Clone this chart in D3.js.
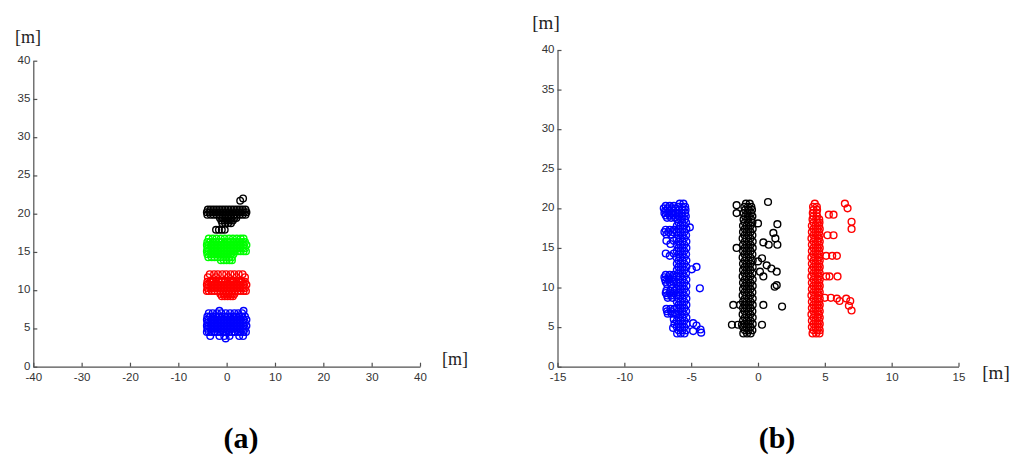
<!DOCTYPE html>
<html><head><meta charset="utf-8">
<script src="https://cdn.jsdelivr.net/npm/d3@7"></script>
<style>body{margin:0;background:#fff}svg{display:block}</style>
</head><body><svg id="c" width="1024" height="457"></svg>
<script>
// ---------- tick labels ----------
const yTicks = [0,5,10,15,20,25,30,35,40];
const xTicksA = [-40,-30,-20,-10,0,10,20,30,40];
const xTicksB = [-15,-10,-5,0,5,10,15];
const unitLabel = "[m]";
const panelLabels = ["(a)", "(b)"];

// ---------- panel (a) data: rows of [y, x1, x2, ...] ----------
const aBlack = [
 [20.55,-3.9,-3.3,-2.7,-2.1,-1.5,-0.9,-0.3,0.3,0.9,1.5,2.1,2.7,3.3,3.9],
 [20.2,-4.1,-3.6,-3.0,-2.4,-1.8,-1.2,-0.6,0.0,0.6,1.2,1.8,2.4,3.0,3.6,4.1],
 [19.85,-4.0,-3.3,-2.7,-2.1,-1.5,-0.9,-0.3,0.3,0.9,1.5,2.1,2.7,3.3,3.9],
 [19.45,-1.4,-0.8,-0.2,0.4,1.0,1.6,2.0],
 [19.1,-1.1,-0.5,0.1,0.7,1.3],
 [18.75,-0.9,-0.3,0.3,0.9],
 [17.9,-2.2,-1.6,-1.0,-0.4],
 [21.7,2.8],
 [22.0,3.4]
];
const aGreen = [
 [16.75,-3.7,-2.9,-2.1,-1.2,-0.4,0.5,1.3,2.1,2.9,3.5],
 [16.3,-4.0,-3.4,-2.8,-2.2,-1.6,-1.0,-0.4,0.2,0.8,1.4,2.0,2.6,3.2,3.8],
 [15.9,-4.1,-3.7,-3.1,-2.5,-1.9,-1.3,-0.7,-0.1,0.5,1.1,1.7,2.3,2.9,3.5,4.1],
 [15.5,-4.0,-3.4,-2.8,-2.2,-1.6,-1.0,-0.4,0.2,0.8,1.4,2.0,2.6,3.2,3.8],
 [15.1,-4.1,-3.7,-3.1,-2.5,-1.9,-1.3,-0.7,-0.1,0.5,1.1,1.7,2.3,2.9,3.5,4.0],
 [14.7,-4.0,-3.4,-2.8,-2.2,-1.6,-1.0,-0.4,0.2,0.8,1.4],
 [14.3,-3.8,-3.1,-2.5,-1.9,-1.3,-0.7,-0.1,0.5,1.1],
 [13.9,-1.2,-0.6,0.0,0.6,1.1]
];
const aRed = [
 [12.1,-3.5,-2.6,-1.8,-0.9,-0.1,0.8,1.6,2.5,3.3],
 [11.7,-3.9,-2.2,0.3,2.0,3.8],
 [11.1,-4.0,-3.4,-2.8,-2.2,-1.6,-1.0,-0.4,0.2,0.8,1.4,2.0,2.6,3.2,3.8],
 [10.7,-4.1,-3.7,-3.1,-2.5,-1.9,-1.3,-0.7,-0.1,0.5,1.1,1.7,2.3,2.9,3.5,4.1],
 [10.3,-4.0,-3.4,-2.8,-2.2,-1.6,-1.0,-0.4,0.2,0.8,1.4,2.0,2.6,3.2,3.8],
 [9.9,-4.1,-3.7,-3.1,-2.5,-1.9,-1.3,-0.7,-0.1,0.5,1.1,1.7,2.3,2.9,3.5,4.0],
 [9.5,-1.3,-0.7,-0.1,0.5,1.1,1.6],
 [9.2,-1.0,-0.4,0.2,0.8,1.3]
];
const aBlue = [
 [7.3,-1.5,3.5],
 [7.0,-3.7,-2.9,-2.0,-1.1,-0.2,0.7,1.6,2.4,3.2],
 [6.55,-4.0,-3.4,-2.8,-2.2,-1.6,-1.0,-0.4,0.2,0.8,1.4,2.0,2.6,3.2,3.8],
 [6.15,-4.1,-3.7,-3.1,-2.5,-1.9,-1.3,-0.7,-0.1,0.5,1.1,1.7,2.3,2.9,3.5,4.1],
 [5.75,-4.0,-3.4,-2.8,-2.2,-1.6,-1.0,-0.4,0.2,0.8,1.4,2.0,2.6,3.2,3.8],
 [5.35,-4.1,-3.7,-3.1,-2.5,-1.9,-1.3,-0.7,-0.1,0.5,1.1,1.7,2.3,2.9,3.5,4.1],
 [4.95,-4.0,-3.4,-2.8,-2.2,-1.6,-1.0,-0.4,0.2,0.8,1.4,2.0,2.6,3.2,3.8],
 [4.55,-4.1,-3.7,-3.1,-2.5,-1.9,-1.3,-0.7,-0.1,0.5,1.1,1.7,2.3,2.9,3.5,4.0],
 [4.0,-3.4,-1.5,-0.5,0.6,2.6,3.4],
 [3.7,-0.2]
];

// ---------- panel (b) data: rows of [y, x1, x2, ...] ----------
const bBlue = [
 [4.2,-6.05,-5.78,-5.5],[4.6,-5.94,-5.66,-5.38],[5.0,-6.07,-5.8,-5.52],[5.4,-5.94,-5.66,-5.36],
 [5.8,-6.07,-5.8,-5.52],[6.2,-5.94,-5.66,-5.36],[6.6,-6.1,-5.82,-5.54],[7.0,-5.95,-5.67,-5.38],
 [7.4,-6.07,-5.8,-5.52],[7.8,-5.94,-5.66,-5.36],[8.2,-6.07,-5.8,-5.52],[8.6,-5.94,-5.66,-5.36],
 [9.0,-6.1,-5.82,-5.54],[9.4,-5.95,-5.67,-5.38],[9.8,-6.07,-5.8,-5.52],[10.2,-5.94,-5.66,-5.36],
 [10.6,-6.07,-5.8,-5.52],[11.0,-5.94,-5.66,-5.36],[11.4,-6.1,-5.82,-5.54],[11.8,-5.95,-5.67,-5.38],
 [12.2,-6.07,-5.8,-5.52],[12.6,-5.94,-5.66,-5.36],[13.0,-6.07,-5.8,-5.52],[13.4,-5.94,-5.66,-5.36],
 [13.8,-6.1,-5.82,-5.54],[14.2,-5.95,-5.67,-5.38],[14.6,-6.07,-5.8,-5.52],[15.0,-5.94,-5.66,-5.36],
 [15.4,-6.07,-5.8,-5.52],[15.8,-5.94,-5.66,-5.36],[16.2,-6.1,-5.82,-5.54],[16.6,-5.95,-5.67,-5.38],
 [17.0,-6.07,-5.8,-5.52],[17.4,-5.94,-5.66,-5.36],[17.8,-6.07,-5.8,-5.52],[18.2,-5.94,-5.66,-5.38],
 [18.6,-6.02,-5.75,-5.48],[19.0,-5.92,-5.64,-5.4],[19.4,-6.0,-5.72,-5.45],[19.8,-5.9,-5.62,-5.42],
 [20.2,-5.95,-5.68,-5.45],[20.6,-5.85,-5.58],
 // left flag and side bumps
 [20.3,-6.9,-6.6,-6.3],[20.0,-7.05,-6.75,-6.45,-6.2],[19.7,-6.95,-6.65,-6.35],
 [19.4,-7.0,-6.7,-6.4,-6.15],[19.1,-6.9,-6.6,-6.3],[18.8,-6.8,-6.5,-6.2],
 [17.3,-6.9,-6.6,-6.3],[17.0,-7.0,-6.7,-6.4],[16.7,-6.85,-6.5],
 [15.9,-6.85,-6.3],[15.5,-6.55],
 [14.3,-6.9,-6.3],[14.0,-6.6],
 [11.6,-6.9,-6.6,-6.3],[11.3,-7.0,-6.7,-6.4],[11.0,-6.95,-6.65,-6.35],[10.7,-6.9,-6.6,-6.3],[10.4,-6.8,-6.5],
 [9.6,-6.85,-6.55,-6.25],[9.3,-6.9,-6.6,-6.3],[9.0,-6.8,-6.5],[8.7,-6.75,-6.4],
 [7.3,-6.85,-6.55,-6.25],[7.0,-6.8,-6.5],[6.7,-6.75,-6.45,-6.2],
 [6.0,-6.3],[5.4,-6.25],[4.9,-6.35],
 // right-side outliers
 [17.6,-5.1],[12.6,-4.6],[12.3,-4.95],[9.9,-4.35],
 [5.5,-4.85],[5.2,-4.6],[4.7,-4.3],[4.3,-4.25],[4.5,-4.85]
];
const bBlack = [
 [4.2,-1.1,-0.82,-0.55],[4.6,-0.98,-0.7,-0.42],[5.0,-1.12,-0.84,-0.56],[5.4,-0.98,-0.7,-0.4],
 [5.8,-1.12,-0.84,-0.56],[6.2,-0.98,-0.7,-0.4],[6.6,-1.15,-0.87,-0.58],[7.0,-1.0,-0.72,-0.42],
 [7.4,-1.12,-0.84,-0.56],[7.8,-0.98,-0.7,-0.4],[8.2,-1.12,-0.84,-0.56],[8.6,-0.98,-0.7,-0.4],
 [9.0,-1.15,-0.87,-0.58],[9.4,-1.0,-0.72,-0.42],[9.8,-1.12,-0.84,-0.56],[10.2,-0.98,-0.7,-0.4],
 [10.6,-1.12,-0.84,-0.56],[11.0,-0.98,-0.7,-0.4],[11.4,-1.15,-0.87,-0.58],[11.8,-1.0,-0.72,-0.42],
 [12.2,-1.12,-0.84,-0.56],[12.6,-0.98,-0.7,-0.4],[13.0,-1.12,-0.84,-0.56],[13.4,-0.98,-0.7,-0.4],
 [13.8,-1.15,-0.87,-0.58],[14.2,-1.0,-0.72,-0.42],[14.6,-1.12,-0.84,-0.56],[15.0,-0.98,-0.7,-0.4],
 [15.4,-1.12,-0.84,-0.56],[15.8,-0.98,-0.7,-0.4],[16.2,-1.15,-0.87,-0.58],[16.6,-1.0,-0.72,-0.42],
 [17.0,-1.12,-0.84,-0.56],[17.4,-0.98,-0.7,-0.4],[17.8,-1.12,-0.84,-0.56],[18.2,-0.98,-0.7,-0.42],
 [18.6,-1.08,-0.8,-0.52],[19.0,-0.96,-0.68,-0.42],[19.4,-1.08,-0.8,-0.52],[19.8,-0.96,-0.68,-0.45],
 [20.2,-1.02,-0.75,-0.5],[20.6,-0.9,-0.62],
 // open outliers
 [20.8,0.75],[20.4,-1.6],[19.4,-1.6],[18.1,0.0],[18.0,1.45],[16.9,1.15],[16.2,1.3],
 [15.7,0.4],[15.4,0.8,1.45],[15.0,-1.6],[13.7,0.3],[13.3,0.0],[12.8,0.65],
 [12.4,1.0],[12.0,0.15,1.4],[11.4,0.4],[10.3,1.4],[10.1,1.25],
 [7.8,-1.85,-1.35,0.4],[7.6,1.8],[5.3,-1.95,-1.5,-1.2,0.3]
];
const bRed = [
 [4.2,4.08,4.35,4.6],[4.6,4.16,4.43,4.62],[5.0,4.03,4.3,4.57],[5.4,4.16,4.43,4.62],
 [5.8,4.03,4.3,4.57],[6.2,4.16,4.43,4.62],[6.6,4.0,4.28,4.55],[7.0,4.15,4.42,4.62],
 [7.4,4.03,4.3,4.57],[7.8,4.16,4.43,4.62],[8.2,4.03,4.3,4.57],[8.6,4.16,4.43,4.62],
 [9.0,4.0,4.28,4.55],[9.4,4.15,4.42,4.62],[9.8,4.03,4.3,4.57],[10.2,4.16,4.43,4.62],
 [10.6,4.03,4.3,4.57],[11.0,4.16,4.43,4.62],[11.4,4.0,4.28,4.55],[11.8,4.15,4.42,4.62],
 [12.2,4.03,4.3,4.57],[12.6,4.16,4.43,4.62],[13.0,4.03,4.3,4.57],[13.4,4.16,4.43,4.62],
 [13.8,4.0,4.28,4.55],[14.2,4.15,4.42,4.62],[14.6,4.03,4.3,4.57],[15.0,4.16,4.43,4.62],
 [15.4,4.03,4.3,4.57],[15.8,4.16,4.43,4.62],[16.2,4.0,4.28,4.55],[16.6,4.15,4.42,4.62],
 [17.0,4.03,4.3,4.57],[17.4,4.16,4.43,4.62],[17.8,4.03,4.3,4.57],[18.2,4.16,4.43,4.6],
 [18.6,4.08,4.35,4.58],[19.0,4.15,4.42],[19.4,4.1,4.38],[19.8,4.16,4.42],
 [20.2,4.12,4.4],[20.6,4.25],
 // open outliers
 [19.2,5.3,5.65],[16.6,5.2,5.65],[14.0,5.1,5.55,5.9],[11.4,5.1,5.35,5.95],
 [8.7,5.0,5.45],[8.6,5.9],[8.3,6.1],
 [20.6,6.5],[20.0,6.7],[18.3,7.0],[17.4,7.0],
 [8.6,6.6],[8.3,6.9],[7.7,6.8],[7.1,7.0]
];

// ---------- drawing ----------
const svg = d3.select("#c");
const toPts = rows => rows.flatMap(r => r.slice(1).map(x => [x, r[0]]));

function panel(cfg) {
  const x = d3.scaleLinear().domain(cfg.xDomain).range(cfg.xRange);
  const y = d3.scaleLinear().domain([0, 40]).range(cfg.yRange);
  const g = svg.append("g");

  const ax = g.append("g").attr("transform", `translate(0,${cfg.yRange[0]})`)
    .call(d3.axisBottom(x).tickValues(cfg.xTicks).tickFormat(d => String(d))
      .tickSizeInner(-4).tickSizeOuter(0).tickPadding(6));
  const ay = g.append("g").attr("transform", `translate(${cfg.xRange[0]},0)`)
    .call(d3.axisLeft(y).tickValues(yTicks).tickFormat(d => String(d))
      .tickSizeInner(-4).tickSizeOuter(0).tickPadding(3));
  [ax, ay].forEach(a => {
    a.attr("font-family", "Liberation Sans, Arial, sans-serif").attr("font-size", 11.5);
    a.selectAll("path,line").attr("stroke", "#505050").attr("stroke-width", 1.2);
    a.selectAll("text").attr("fill", "#333");
  });
  ay.selectAll("text").attr("dy", "0.22em");

  cfg.series.forEach(s => {
    g.append("g").selectAll("circle").data(toPts(s.rows)).join("circle")
      .attr("cx", d => x(d[0])).attr("cy", d => y(d[1]))
      .attr("r", cfg.r).attr("fill", "none")
      .attr("stroke", s.color).attr("stroke-width", 1.4);
  });

  const serif = "Liberation Serif, Times New Roman, serif";
  g.append("text").attr("x", cfg.yLab[0]).attr("y", cfg.yLab[1]).attr("text-anchor", "middle")
    .attr("font-family", serif).attr("font-size", cfg.labSize).attr("fill", "#222").text(unitLabel);
  g.append("text").attr("x", cfg.xLab[0]).attr("y", cfg.xLab[1]).attr("text-anchor", "middle")
    .attr("font-family", serif).attr("font-size", cfg.labSize).attr("fill", "#222").text(unitLabel);
  g.append("text").attr("x", cfg.pLab[0]).attr("y", cfg.pLab[1]).attr("text-anchor", "middle")
    .attr("font-family", serif).attr("font-size", 30).attr("font-weight", "bold")
    .attr("fill", "#000").text(cfg.title);
}

panel({
  xDomain: [-40, 40], xRange: [33.3, 420], yRange: [366.7, 60.7], xTicks: xTicksA, r: 3.3,
  series: [{rows: aBlue, color: "#0000ff"}, {rows: aRed, color: "#ff0000"},
           {rows: aGreen, color: "#00ff00"}, {rows: aBlack, color: "#000000"}],
  yLab: [28, 43], xLab: [455, 365], pLab: [241, 448], labSize: 18, title: panelLabels[0]
});
panel({
  xDomain: [-15, 15], xRange: [557.5, 958.5], yRange: [366.7, 50], xTicks: xTicksB, r: 3.4,
  series: [{rows: bBlue, color: "#0000ff"}, {rows: bBlack, color: "#000000"},
           {rows: bRed, color: "#ff0000"}],
  yLab: [546, 29], xLab: [996, 379], pLab: [777, 448], labSize: 19, title: panelLabels[1]
});
</script>
</body></html>
